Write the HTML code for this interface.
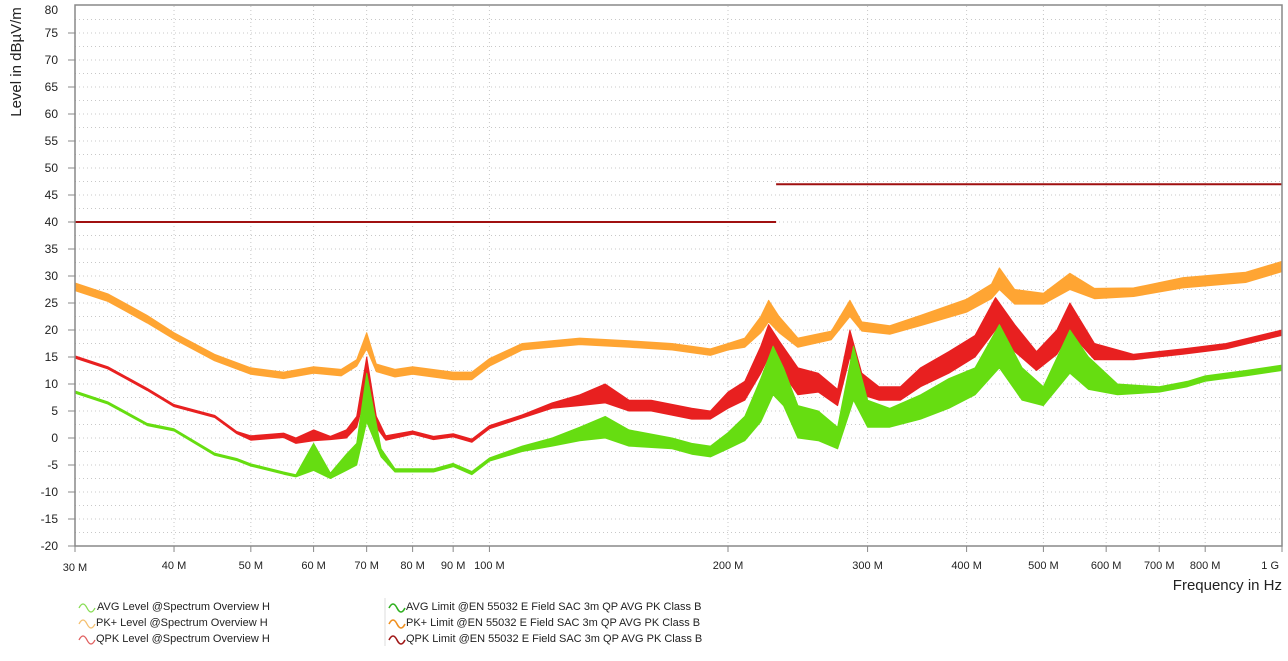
<!DOCTYPE html>
<html><head><meta charset="utf-8"><style>
body{margin:0;background:#fff;font-family:"Liberation Sans",sans-serif;}
svg text{font-family:"Liberation Sans",sans-serif;}
</style></head><body>
<svg id="chart" width="1288" height="656" xmlns="http://www.w3.org/2000/svg">
<g id="grid"></g>
<g id="series"></g>
<g id="axes"></g>
<text transform="translate(21,62) rotate(-90)" text-anchor="middle" font-size="15" fill="#222">Level in dBµV/m</text>
<text x="1282" y="590" text-anchor="end" font-size="15" fill="#222">Frequency in Hz</text>
<g id="legend" font-size="11" fill="#222">
<g><path d="M79 608 q4 -8 8 0 q4 8 8 0" fill="none" stroke="#88dd55" stroke-width="1.3"/><text x="97" y="610">AVG Level @Spectrum Overview H</text></g>
<g><path d="M79 624 q4 -8 8 0 q4 8 8 0" fill="none" stroke="#f5c070" stroke-width="1.3"/><text x="96" y="626">PK+ Level @Spectrum Overview H</text></g>
<g><path d="M79 640 q4 -8 8 0 q4 8 8 0" fill="none" stroke="#e06060" stroke-width="1.3"/><text x="96" y="642">QPK Level @Spectrum Overview H</text></g>
<line x1="385" y1="598" x2="385" y2="646" stroke="#ddd"/>
<g><path d="M389 608 q4 -8 8 0 q4 8 8 0" fill="none" stroke="#30b020" stroke-width="1.6"/><text x="406" y="610">AVG Limit @EN 55032 E Field SAC 3m QP AVG PK Class B</text></g>
<g><path d="M389 624 q4 -8 8 0 q4 8 8 0" fill="none" stroke="#f09020" stroke-width="1.6"/><text x="406" y="626">PK+ Limit @EN 55032 E Field SAC 3m QP AVG PK Class B</text></g>
<g><path d="M389 640 q4 -8 8 0 q4 8 8 0" fill="none" stroke="#a01818" stroke-width="1.6"/><text x="406" y="642">QPK Limit @EN 55032 E Field SAC 3m QP AVG PK Class B</text></g>
</g>
</svg>
<script>
const yTicks=[80,75,70,65,60,55,50,45,40,35,30,25,20,15,10,5,0,-5,-10,-15,-20];
const xTicks=[30,40,50,60,70,80,90,100,200,300,400,500,600,700,800,1000];
const xTickLabels=["30 M","40 M","50 M","60 M","70 M","80 M","90 M","100 M","200 M","300 M","400 M","500 M","600 M","700 M","800 M","1 G"];
const limitFreqs=[30,230,230,1000];
const limitVals=[40,40,47,47];
const pkFreqs=[30,33,37,40,45,50,55,60,65,68,70,72,76,80,90,95,100,110,130,150,170,190,200,210,220,225,232,245,270,285,295,320,350,400,430,440,460,500,540,580,650,750,900,1000];
const pkHi=[28.7,26.7,22.7,19.5,15.5,13,12.2,13.2,12.7,14.5,19.5,13.7,12.7,13.2,12.2,12.2,14.7,17.5,18.5,18,17.5,16.5,17.5,18.5,22.5,25.5,22.5,18.5,19.8,25.5,21.5,20.8,22.7,25.7,28.5,31.5,27.5,26.8,30.5,27.7,27.8,29.7,30.7,32.7];
const pkLo=[27.3,25.3,21.3,18.3,14.3,11.8,11,12,11.5,13.3,16.5,12.3,11.3,11.8,10.8,10.8,13.3,16.3,17.3,16.8,16.3,15.3,16.3,16.8,19.5,21.5,19.5,16.8,18.2,22.5,19.8,19.2,20.8,23.3,25.8,27.5,24.8,24.8,27.5,25.8,26.2,27.8,28.8,30.8];
const qpkFreqs=[30,33,37,40,45,48,50,55,57,60,63,66,68,70,72,74,80,85,90,95,100,110,120,130,140,150,160,180,190,200,210,220,225,232,245,260,275,285,295,310,330,350,380,410,435,460,490,520,540,580,650,750,850,1000];
const qpkHi=[15.2,13.2,9.2,6.2,4.2,1.2,0.4,0.9,0,1.5,0.3,1.5,4,15,4,0.4,1.3,0.3,0.8,-0.2,2.3,4.3,6.5,8,10,7,7,5.5,5,8.5,10.5,17,21,18,13,12,9,20,12,9.5,9.5,13,16,19,26,21,16,20,25,17.5,15.5,16.5,17.5,20];
const qpkLo=[14.8,12.8,8.8,5.8,3.8,0.8,-0.4,0.1,-1,-0.5,-0.3,0,2,9,2,-0.4,0.7,-0.3,0.2,-0.8,1.7,3.7,5.5,6,6.5,5,5,3.5,3.5,5.5,7,12,15,13,8,8.5,6,15,8,7,7,9.5,12,15,20,16,12.5,15.5,19.5,14.5,14.5,15.5,16.5,19];
const avgFreqs=[30,33,37,40,45,48,50,55,57,60,63,66,68,70,73,76,85,90,95,100,110,120,130,140,150,170,180,190,200,210,220,228,235,245,260,275,288,300,320,350,380,410,440,470,500,540,570,620,700,760,800,900,1000];
const avgHi=[8.7,6.7,2.7,1.7,-2.8,-3.8,-4.8,-6.3,-6.8,-1,-6.5,-3,-1,12,-2,-5.7,-5.7,-4.7,-6.2,-3.7,-1.5,0,2,4,1.5,0,-1,-1.5,1,4,11,17,13,6,5,2,17,7,5.5,8,11,13,21,13,9.5,20,15,10,9.5,10.5,11.5,12.5,13.5];
const avgLo=[8.3,6.3,2.3,1.3,-3.2,-4.2,-5.2,-6.7,-7.2,-6,-7.5,-6,-5,3,-3.5,-6.3,-6.3,-5.3,-6.8,-4.3,-2.5,-1.5,-0.5,0,-1.5,-2,-3,-3.5,-2,-0.5,3,8,6,0,-0.5,-2,7,2,2,3.5,5.5,8,13,7,6,12,9,8,8.5,9.5,10.5,11.5,12.5];

const L=75,R=1282,T=6,B=546;
const X=f=>L+(R-L)*Math.log10(f/30)/Math.log10(1000/30);
const Y=v=>T+(80-v)*(B-T)/100;
const NS="http://www.w3.org/2000/svg";
function mk(tag,parent,attrs){const e=document.createElementNS(NS,tag);for(const k in attrs)e.setAttribute(k,attrs[k]);parent.appendChild(e);return e;}
const grid=document.getElementById('grid'),axes=document.getElementById('axes'),ser=document.getElementById('series');
for(let v=-17.5;v<80;v+=2.5){
  const g=mk('line',grid,{x1:L,x2:R,y1:Y(v),y2:Y(v),stroke:'#c8c8c8','stroke-dasharray':'1,3','stroke-width':1});
  
  
}
xTicks.forEach((f,i)=>{
  if(i>0&&i<xTicks.length-1){const g=mk('line',grid,{x1:X(f),x2:X(f),y1:T,y2:B,stroke:'#c8c8c8','stroke-dasharray':'1,3'});
  
  }
  const t=mk('line',axes,{x1:X(f),x2:X(f),y1:B,y2:B+6,stroke:'#888'});
  
  
  const anchor=i==xTicks.length-1?'end':'middle';
  const lx=i==xTicks.length-1?X(f)-3:X(f);
  const lb=mk('text',axes,{x:lx,y:i==0?571:569,'text-anchor':anchor,'font-size':11,fill:'#222'});
  lb.textContent=xTickLabels[i];
  
  
});
yTicks.forEach(v=>{
  if(v<80){const t=mk('line',axes,{x1:L-7,x2:L,y1:Y(v),y2:Y(v),stroke:'#888'});
  
  }
  const lb=mk('text',axes,{x:58,y:(v==80?Y(v)+8:Y(v)+4),'text-anchor':'end','font-size':12,fill:'#222'});
  lb.textContent=v;
  
  
});
const frame=mk('path',axes,{d:`M${L} ${T-1}H${R}V${B}H${L}Z`,fill:'none',stroke:'#888','stroke-width':1.5});


function band(fr,hi,lo,color,name){
  let d='M'+fr.map((f,i)=>X(f).toFixed(1)+' '+Y(hi[i]).toFixed(1)).join('L');
  for(let i=fr.length-1;i>=0;i--)d+='L'+X(fr[i]).toFixed(1)+' '+Y(lo[i]).toFixed(1);
  const p=mk('path',ser,{d:d+'Z',fill:color,stroke:color,'stroke-width':1,'stroke-linejoin':'round'});
  
  
}
band(pkFreqs,pkHi,pkLo,'#ffa533','pk-level-trace');
band(qpkFreqs,qpkHi,qpkLo,'#e82020','qpk-level-trace');
band(avgFreqs,avgHi,avgLo,'#66dd11','avg-level-trace');
const lim=mk('path',ser,{d:'M'+X(limitFreqs[0])+' '+Y(limitVals[0])+'L'+X(limitFreqs[1])+' '+Y(limitVals[1])+'M'+X(limitFreqs[2])+' '+Y(limitVals[2])+'L'+X(limitFreqs[3])+' '+Y(limitVals[3]),fill:'none',stroke:'#a01010','stroke-width':2});


</script>
</body></html>
